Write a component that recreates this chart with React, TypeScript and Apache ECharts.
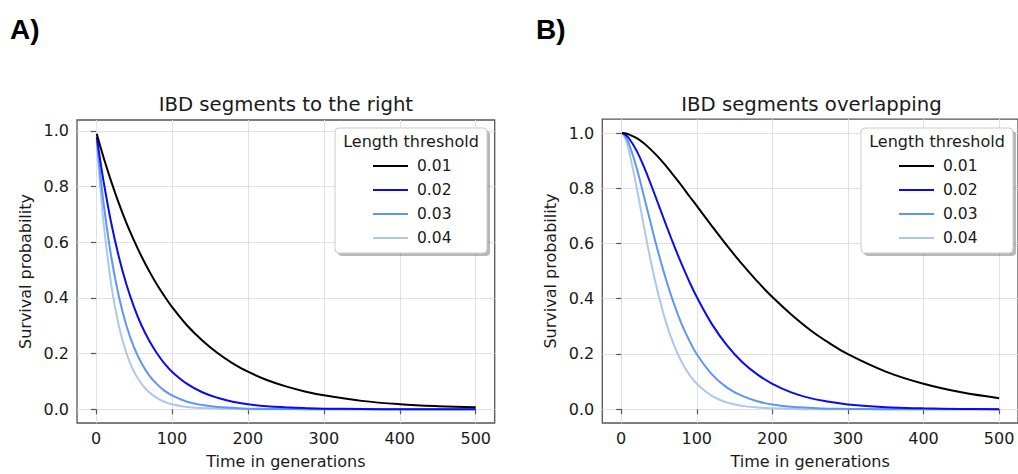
import React, { useEffect, useRef } from "react";
import * as echarts from "echarts";

// generations (x) at which values were read
const XS = [1, 5, 10, 20, 30, 40, 50, 60, 70, 80, 90, 100, 120, 140, 160, 180, 200, 225, 250, 275, 300, 350, 400, 450, 500];

// Panel A: IBD segments to the right
const RIGHT_001 = [0.990, 0.951, 0.905, 0.819, 0.741, 0.670, 0.607, 0.549, 0.497, 0.449, 0.407, 0.368, 0.301, 0.247, 0.202, 0.165, 0.135, 0.105, 0.082, 0.064, 0.050, 0.030, 0.018, 0.011, 0.007];
const RIGHT_002 = [0.980, 0.905, 0.819, 0.670, 0.549, 0.449, 0.368, 0.301, 0.247, 0.202, 0.165, 0.135, 0.091, 0.061, 0.041, 0.027, 0.018, 0.011, 0.007, 0.004, 0.002, 0.001, 0.000, 0.000, 0.000];
const RIGHT_003 = [0.970, 0.861, 0.741, 0.549, 0.407, 0.301, 0.223, 0.165, 0.122, 0.091, 0.067, 0.050, 0.027, 0.015, 0.008, 0.005, 0.002, 0.001, 0.001, 0, 0, 0, 0, 0, 0];
const RIGHT_004 = [0.961, 0.819, 0.670, 0.449, 0.301, 0.202, 0.135, 0.091, 0.061, 0.041, 0.027, 0.018, 0.008, 0.004, 0.002, 0.001, 0, 0, 0, 0, 0, 0, 0, 0, 0];

// Panel B: IBD segments overlapping
const OVER_001 = [1.000, 0.999, 0.995, 0.982, 0.963, 0.938, 0.910, 0.878, 0.844, 0.809, 0.772, 0.736, 0.663, 0.592, 0.525, 0.463, 0.406, 0.343, 0.287, 0.240, 0.199, 0.136, 0.092, 0.061, 0.040];
const OVER_002 = [1.000, 0.995, 0.982, 0.938, 0.878, 0.809, 0.736, 0.663, 0.592, 0.525, 0.463, 0.406, 0.308, 0.231, 0.171, 0.126, 0.092, 0.061, 0.040, 0.027, 0.017, 0.007, 0.003, 0.001, 0.000];
const OVER_003 = [1.000, 0.990, 0.963, 0.878, 0.772, 0.663, 0.558, 0.463, 0.380, 0.308, 0.249, 0.199, 0.126, 0.078, 0.048, 0.029, 0.017, 0.009, 0.005, 0.002, 0.001, 0, 0, 0, 0];
const OVER_004 = [0.999, 0.982, 0.938, 0.809, 0.663, 0.525, 0.406, 0.308, 0.231, 0.171, 0.126, 0.092, 0.048, 0.024, 0.012, 0.006, 0.003, 0.001, 0, 0, 0, 0, 0, 0, 0];

const THRESHOLDS = ["0.01", "0.02", "0.03", "0.04"];
const COLORS = ["#000000", "#0a0af5", "#5f95f5", "#adc8ec"];
const X_TICKS = [0, 100, 200, 300, 400, 500];
const Y_TICKS = [0, 0.2, 0.4, 0.6, 0.8, 1.0];
const TITLES = ["IBD segments to the right", "IBD segments overlapping"];
const PANEL_LABELS = ["A)", "B)"];
const X_NAME = "Time in generations";
const Y_NAME = "Survival probability";
const LEGEND_TITLE = "Length threshold";

const FONT = "DejaVu Sans";
const TXT = "#1a1a1a";

export default function App() {
  const ref = useRef<HTMLDivElement>(null);

  useEffect(() => {
    if (!ref.current) return;
    const chart = echarts.init(ref.current, undefined, { renderer: "svg" });

    const panels = [
      { left: 77, top: 120, width: 417.7, height: 309.3, ymin: -0.0495, ymax: 1.0395, data: [RIGHT_001, RIGHT_002, RIGHT_003, RIGHT_004] },
      { left: 602.3, top: 119.2, width: 418.4, height: 309.9, ymin: -0.05, ymax: 1.05, data: [OVER_001, OVER_002, OVER_003, OVER_004] },
    ];

    const grids = panels.map((p) => ({
      left: p.left, top: p.top, width: p.width, height: p.height,
      show: true, backgroundColor: "#ffffff", borderColor: "#555555", borderWidth: 1.3,
    }));

    const xAxes = panels.map((p, i) => ({
      type: "value", gridIndex: i, min: -25, max: 525,
      name: X_NAME, nameLocation: "middle", nameGap: 30,
      nameTextStyle: { fontFamily: FONT, fontSize: 16, color: TXT },
      axisLine: { show: false },
      axisTick: { show: true, length: 5, lineStyle: { color: "#555555", width: 1.2 }, customValues: X_TICKS },
      axisLabel: { fontFamily: FONT, fontSize: 16, color: TXT, margin: 7, customValues: X_TICKS },
      splitLine: { show: true, lineStyle: { color: "#e2e2e2", width: 1 } },
    }));

    const yAxes = panels.map((p, i) => ({
      type: "value", gridIndex: i, min: p.ymin, max: p.ymax,
      name: Y_NAME, nameLocation: "middle", nameGap: 44,
      nameTextStyle: { fontFamily: FONT, fontSize: 16, color: TXT },
      axisLine: { show: false },
      axisTick: { show: true, length: 5, lineStyle: { color: "#555555", width: 1.2 }, customValues: Y_TICKS },
      axisLabel: { fontFamily: FONT, fontSize: 16, color: TXT, margin: 8, customValues: Y_TICKS, formatter: (v: number) => v.toFixed(1) },
      splitLine: { show: true, lineStyle: { color: "#e2e2e2", width: 1 } },
    }));

    const series: any[] = [];
    panels.forEach((p, pi) => {
      p.data.forEach((vals, si) => {
        series.push({
          type: "line", name: THRESHOLDS[si], xAxisIndex: pi, yAxisIndex: pi,
          data: XS.map((x, k) => [x, vals[k]]),
          symbol: "none", smooth: 0.4,
          lineStyle: { color: COLORS[si], width: 2 }, itemStyle: { color: COLORS[si] },
          z: 3 + (3 - si),
        });
      });
    });

    const legendBoxes = [335, 861];
    const graphic: any[] = [];
    legendBoxes.forEach((bx) => {
      graphic.push({ type: "rect", z: 50, shape: { x: bx + 3, y: 131, width: 152, height: 125, r: 4 }, style: { fill: "rgba(0,0,0,0.28)" } });
      graphic.push({ type: "rect", z: 51, shape: { x: bx, y: 128, width: 152, height: 125, r: 4 }, style: { fill: "#ffffff", stroke: "#cccccc", lineWidth: 1 } });
      graphic.push({ type: "text", z: 52, x: bx + 76, y: 141, style: { text: LEGEND_TITLE, fontFamily: FONT, fontSize: 16, fill: TXT, align: "center", verticalAlign: "middle" } });
    });
    PANEL_LABELS.forEach((t, i) => {
      graphic.push({ type: "text", z: 60, x: i === 0 ? 10 : 536, y: 15, style: { text: t, fontFamily: "Liberation Sans", fontWeight: "bold", fontSize: 28, fill: "#000000" } });
    });

    const legends = legendBoxes.map((bx) => ({
      show: true, orient: "vertical", left: bx + 33, top: 152, z: 60,
      data: THRESHOLDS, icon: "rect", itemWidth: 35, itemHeight: 2, itemGap: 6,
      selectedMode: false,
      textStyle: { fontFamily: FONT, fontSize: 15.5, color: TXT, lineHeight: 18, padding: [0, 0, 0, 4] },
    }));

    chart.setOption({
      animation: false,
      backgroundColor: "#ffffff",
      title: panels.map((p, i) => ({
        text: TITLES[i], left: p.left + p.width / 2, top: 94, textAlign: "center", padding: 0,
        textStyle: { fontFamily: FONT, fontSize: 19.7, fontWeight: "normal", color: TXT },
      })),
      grid: grids,
      xAxis: xAxes,
      yAxis: yAxes,
      legend: legends,
      series,
      graphic,
    });

    return () => chart.dispose();
  }, []);

  return <div ref={ref} style={{ position: "fixed", left: 0, top: 0, width: 1018, height: 474 }} />;
}
